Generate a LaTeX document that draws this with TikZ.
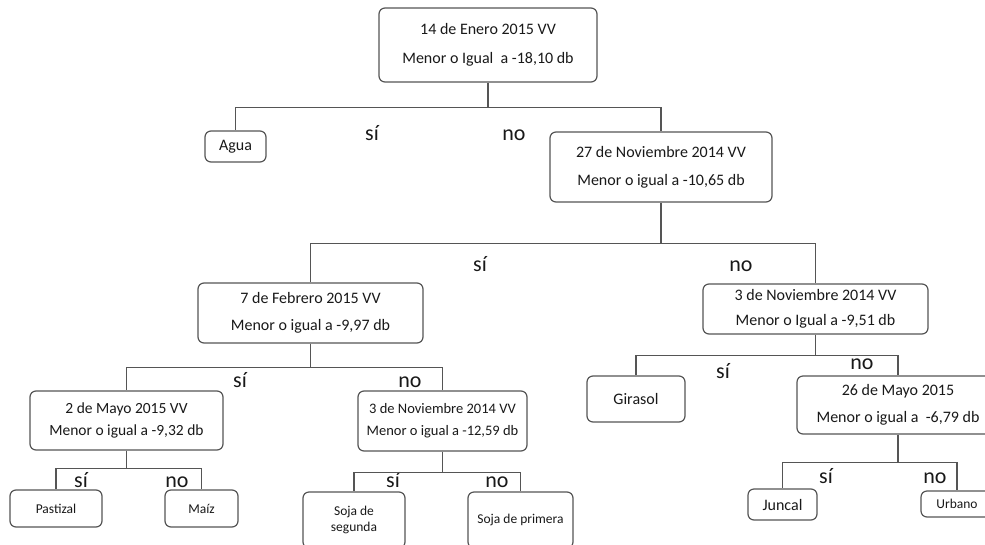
\documentclass[tikz,border=0pt]{standalone}
\usepackage{fontspec}
\setmainfont{Carlito}
\usepackage{xcolor}
\definecolor{linegray}{RGB}{85,85,85}
\definecolor{txt}{RGB}{25,25,25}

\begin{document}
\begin{tikzpicture}[
  x=1pt, y=-1pt,
  box/.style={draw=linegray, line width=1.2pt, rounded corners=6pt, align=center,
    inner sep=0pt, text=txt, font=\fontsize{16}{28}\selectfont},
  smallbox/.style={box, font=\fontsize{14.5}{22}\selectfont},
  leaf/.style={box, font=\fontsize{16}{18}\selectfont},
  smallleaf/.style={box, font=\fontsize{13.5}{16}\selectfont},
  edge/.style={draw=linegray, line width=1.5pt},
  ans/.style={font=\fontsize{22}{22}\selectfont, anchor=base, inner sep=0pt, text=txt}
]
\fill[white] (0,0) rectangle (985,544);
\useasboundingbox (0,0) rectangle (985,544);

% Level 0: root split
\node[box, minimum width=218pt, minimum height=74pt, font=\fontsize{16}{29}\selectfont] (root) at (488,45)
  {14 de Enero 2015 VV\\Menor o Igual\ \ a -18,10 db};
\node[leaf, minimum width=61pt, minimum height=31pt] (agua) at (235.5,146.5) {Agua};
\node[box, minimum width=222pt, minimum height=70pt] (nov27) at (661,167)
  {27 de Noviembre 2014 VV\\Menor o igual a -10,65 db};
\node[ans] (a1) at (372,140) {sí};
\node[ans] (b1) at (514,140) {no};

% Level 1
\node[box, minimum width=225pt, minimum height=60pt, font=\fontsize{16}{27}\selectfont] (feb7) at (310.5,313)
  {7 de Febrero 2015 VV\\Menor o igual a -9,97 db};
\node[box, minimum width=225pt, minimum height=50pt, font=\fontsize{16}{25}\selectfont] (nov3a) at (815.5,309)
  {3 de Noviembre 2014 VV\\Menor o Igual a -9,51 db};
\node[ans] (a2) at (480,271) {sí};
\node[ans] (b2) at (741,271) {no};

% Level 2, left side
\node[smallbox, minimum width=193pt, minimum height=59pt, font=\fontsize{15.5}{22}\selectfont] (may2) at (126.5,420.5)
  {2 de Mayo 2015 VV\\Menor o igual a -9,32 db};
\node[smallbox, minimum width=169pt, minimum height=60pt] (nov3b) at (442.5,421)
  {3 de Noviembre 2014 VV\\Menor o igual a -12,59 db};
\node[ans] (a3) at (240,387) {sí};
\node[ans] (b3) at (410,387) {no};

% Level 2, right side
\node[leaf, minimum width=98pt, minimum height=46pt] (girasol) at (636,399) {Girasol};
\node[box, minimum width=202pt, minimum height=58pt, font=\fontsize{16}{27}\selectfont] (may26) at (898,405)
  {26 de Mayo 2015\\Menor o igual a\ \ -6,79 db};
\node[ans] (a4) at (723,378) {sí};
\node[ans] (b4) at (862,369) {no};

% Leaves (the last row runs off the page edges)
\node[smallleaf, minimum width=92pt, minimum height=37pt] (pastizal) at (56,508.5) {Pastizal};
\node[smallleaf, minimum width=73pt, minimum height=37pt] (maiz) at (201.5,508.5) {Maíz};
\node[smallleaf, minimum width=102pt, minimum height=56pt] (sojaseg) at (354,520) {Soja de\\segunda};
\node[smallleaf, minimum width=105pt, minimum height=56pt] (sojaprim) at (520.5,520) {Soja de primera};
\node[leaf, minimum width=69pt, minimum height=31pt] (juncal) at (782.5,504.5) {Juncal};
\node[smallleaf, minimum width=72pt, minimum height=26pt] (urbano) at (957,504) {Urbano};
\node[ans] (a5) at (81,487) {sí};
\node[ans] (b5) at (177,487) {no};
\node[ans] (a6) at (393,487) {sí};
\node[ans] (b6) at (497,487) {no};
\node[ans] (a7) at (826,483) {sí};
\node[ans] (b7) at (935,483) {no};

% Connectors
\draw[edge] (root.south) -- ++(0,25) -| (agua.north);
\draw[edge] (root.south) ++(0,25) -| (nov27.north);
\draw[edge] (nov27.south) -- ++(0,41) -| (feb7.north);
\draw[edge] (nov27.south) ++(0,41) -| (nov3a.north);
\draw[edge] (feb7.south) -- ++(0,24) -| (may2.north);
\draw[edge] (feb7.south) ++(0,24) -| (nov3b.north);
\draw[edge] (nov3a.south) -- ++(0,21) -| (girasol.north);
\draw[edge] (nov3a.south) ++(0,21) -| (may26.north);
\draw[edge] (may2.south) -- ++(0,18) -| (pastizal.north);
\draw[edge] (may2.south) ++(0,18) -| (maiz.north);
\draw[edge] (nov3b.south) -- ++(0,21) -| (sojaseg.north);
\draw[edge] (nov3b.south) ++(0,21) -| (sojaprim.north);
\draw[edge] (may26.south) -- ++(0,28) -| (juncal.north);
\draw[edge] (may26.south) ++(0,28) -| (urbano.north);
\end{tikzpicture}
\end{document}
